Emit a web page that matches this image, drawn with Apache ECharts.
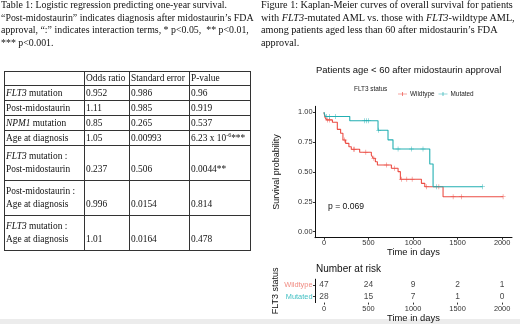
<!DOCTYPE html>
<html>
<head>
<meta charset="utf-8">
<title></title>
<script src="https://cdn.jsdelivr.net/npm/echarts@6/dist/echarts.min.js"></script>
<style>
*{ padding:0; margin:0; }
body{
    width:520px;
    height:324px;
    overflow:hidden;
    background:#fff;
    position:relative;
    font-family:"Liberation Serif","Times New Roman",serif;
    color:#111;
}
.band{ position:absolute; left:0; top:319px; width:520px; height:5px; background:#ececec; }
#main{ position:absolute; left:0; top:0; width:520px; height:324px; }
.cap{
    position:absolute;
    top:-1px;
    font-size:9.9px;
    line-height:12.5px;
    white-space:nowrap;
}
#tab{
    position:absolute;
    left:4px;
    top:71px;
    border-collapse:collapse;
    font-size:9.4px;
    line-height:13px;
}
#tab td{
    border:1px solid #333;
    padding:0 1px;
    vertical-align:middle;
    white-space:nowrap;
}
</style>
</head>
<body>
<div class="band"></div>
<div id="main"></div>
<div class="cap" style="left:1px;">Table 1: Logistic regression predicting one-year survival.<br>“Post-midostaurin” indicates diagnosis after midostaurin’s FDA<br>approval, “:” indicates interaction terms, * p&lt;0.05,&nbsp; ** p&lt;0.01,<br>*** p&lt;0.001.</div>
<div class="cap" style="left:261px;font-size:10.2px;">Figure 1: Kaplan-Meier curves of overall survival for patients<br>with <i>FLT3</i>-mutated AML vs. those with <i>FLT3</i>-wildtype AML,<br>among patients aged less than 60 after midostaurin’s FDA<br>approval.</div>
<table id="tab"></table>
<script>
// table 1
var headers = ['', 'Odds ratio', 'Standard error', 'P-value'];
var terms = ['<i>FLT3</i> mutation', 'Post-midostaurin', '<i>NPM1</i> mutation', 'Age at diagnosis',
    '<i>FLT3</i> mutation :<br>Post-midostaurin', 'Post-midostaurin :<br>Age at diagnosis', '<i>FLT3</i> mutation :<br>Age at diagnosis'];
var oddsRatio = ['0.952', '1.11', '0.85', '1.05', '0.237', '0.996', '1.01'];
var stdError = ['0.986', '0.985', '0.265', '0.00993', '0.506', '0.0154', '0.0164'];
var pValue = ['0.96', '0.919', '0.537', '6.23 x 10<sup style="font-size:6px;line-height:0">-6</sup>***', '0.0044**', '0.814', '0.478'];
var colWidths = [80, 45, 60, 61];

// survival curves (time in days, survival probability)
var wtTimes = [0, 12, 30, 95, 150, 187, 213, 243, 280, 307, 401, 532, 552, 577, 600, 757, 832, 858, 1094, 1132, 1337, 2011];
var wtSurv = [1, 0.957, 0.936, 0.916, 0.857, 0.824, 0.768, 0.74, 0.712, 0.69, 0.665, 0.642, 0.615, 0.586, 0.559, 0.531, 0.503, 0.439, 0.405, 0.377, 0.293, 0.293];
var wtCensor = [40, 60, 232, 330, 345, 470, 560, 700, 790, 870, 930, 990, 1150, 1290, 1450, 1543, 2011];
var mutTimes = [0, 15, 290, 607, 719, 775, 1188, 1225, 1780];
var mutSurv = [1, 0.964, 0.929, 0.849, 0.769, 0.693, 0.567, 0.377, 0.377];
var mutCensor = [30, 60, 130, 457, 476, 502, 614, 832, 982, 1112, 1262, 1780];

// number at risk
var riskTimes = [0, 500, 1000, 1500, 2000];
var wtRisk = [47, 24, 9, 2, 1];
var mutRisk = [28, 15, 7, 1, 0];
var groups = ['Wildtype', 'Mutated'];
var xTicks = [0, 500, 1000, 1500, 2000];
var yTicks = [0, 0.25, 0.5, 0.75, 1];

var red = '#EC4E45';
var teal = '#23AFB2';

// build table
var rowH = [14, 15, 15, 15, 15, 35, 35, 35];
var html = '<tr style="height:' + rowH[0] + 'px">';
for (var c = 0; c < headers.length; c++) {
    html += '<td style="width:' + (colWidths[c] - 3) + 'px">' + headers[c] + '</td>';
}
html += '</tr>';
for (var r = 0; r < terms.length; r++) {
    var pre = terms[r].indexOf('<br>') > -1 ? '&nbsp;<br>' : '';
    html += '<tr style="height:' + rowH[r + 1] + 'px"><td>' + terms[r] + '</td><td>' + pre + oddsRatio[r] +
        '</td><td>' + pre + stdError[r] + '</td><td>' + pre + pValue[r] + '</td></tr>';
}
document.getElementById('tab').innerHTML = html;

function pairs(t, s) {
    var out = [];
    for (var i = 0; i < t.length; i++) out.push([t[i], s[i]]);
    return out;
}
function survAt(t, s, x) {
    var v = s[0];
    for (var i = 0; i < t.length; i++) { if (t[i] <= x) v = s[i]; }
    return v;
}
function censorPts(ct, t, s) {
    return ct.map(function (x) { return [x, survAt(t, s, x)]; });
}
function riskPts(name, vals) {
    return riskTimes.map(function (x, i) { return [x, name, vals[i]]; });
}

var plus = 'path://M4,0h1v9h-1z M0,4h9v1h-9z';
var legIcon = 'path://M0,4h13v1h-13z M6,1.5h1v6h-1z';
var sans = 'Liberation Sans, Arial, sans-serif';

var chart = echarts.init(document.getElementById('main'));
var option = {
    animation: false,
    textStyle: { fontFamily: sans },
    title: {
        text: 'Patients age < 60 after midostaurin approval',
        left: 311, top: 61,
        textStyle: { fontSize: 9.45, fontWeight: 'normal', color: '#111', fontFamily: sans }
    },
    legend: {
        data: [{ name: 'Wildtype', icon: legIcon }, { name: 'Mutated', icon: legIcon }],
        left: 393, top: 86,
        itemWidth: 9, itemHeight: 6, itemGap: 4,
        textStyle: { fontSize: 6.4, color: '#222', padding: [0, 0, 0, -2] }
    },
    graphic: [
        { type: 'text', left: 354, top: 86.5, style: { text: 'FLT3 status', fontSize: 6.4, fill: '#222', fontFamily: sans } },
        { type: 'text', left: 328, top: 202, style: { text: 'p = 0.069', fontSize: 8.6, fill: '#111', fontFamily: sans } },
        { type: 'text', left: 316, top: 264, style: { text: 'Number at risk', fontSize: 10, fill: '#111', fontFamily: sans } }
    ],
    grid: [
        { left: 315, right: 8, top: 106.3, height: 131.4 },
        { left: 315, right: 8, top: 279.2, height: 23.4 }
    ],
    xAxis: [0, 1].map(function (g) {
        return {
            type: 'value', gridIndex: g, min: -100.5, max: 2111,
            name: 'Time in days', nameLocation: 'middle', nameGap: g === 0 ? 10.5 : 11,
            nameTextStyle: { fontSize: 9.4, color: '#111' },
            axisLine: { onZero: false, lineStyle: { color: '#111', width: 1 } },
            axisTick: { show: true, length: 2, customValues: xTicks, lineStyle: { color: '#333' } },
            axisLabel: {
                customValues: xTicks, fontSize: 7.4, color: '#333', margin: g === 0 ? 2 : 3,
                formatter: function (v) { return String(v); }
            },
            splitLine: { show: false }
        };
    }),
    yAxis: [
        {
            type: 'value', gridIndex: 0, min: -0.05, max: 1.05,
            name: 'Survival probability', nameLocation: 'middle', nameGap: 34,
            nameTextStyle: { fontSize: 9, color: '#111' },
            axisLine: { show: true, onZero: false, lineStyle: { color: '#111', width: 1 } },
            axisTick: { show: true, length: 2, customValues: yTicks, lineStyle: { color: '#333' } },
            axisLabel: {
                customValues: yTicks, fontSize: 7.4, color: '#333', margin: 2.5,
                formatter: function (v) { return v.toFixed(2); }
            },
            splitLine: { show: false }
        },
        {
            type: 'category', gridIndex: 1, data: groups, inverse: true,
            name: 'FLT3 status', nameLocation: 'middle', nameGap: 34,
            nameTextStyle: { fontSize: 9, color: '#111' },
            axisLine: { onZero: false, lineStyle: { color: '#111', width: 1 } },
            axisTick: { show: true, length: 2, alignWithLabel: true, lineStyle: { color: '#333' } },
            axisLabel: {
                fontSize: 7.4, margin: 2.5,
                formatter: function (v) { return '{' + (v === 'Wildtype' ? 'w' : 'm') + '|' + v + '}'; },
                rich: { w: { color: '#F08A80', fontSize: 7.4 }, m: { color: '#3FBFC2', fontSize: 7.4 } }
            }
        }
    ],
    series: [
        {
            name: 'Wildtype', type: 'line', step: 'end', xAxisIndex: 0, yAxisIndex: 0,
            data: pairs(wtTimes, wtSurv), showSymbol: false, symbol: 'none',
            lineStyle: { color: red, width: 1.1 }, itemStyle: { color: red }
        },
        {
            name: 'Mutated', type: 'line', step: 'end', xAxisIndex: 0, yAxisIndex: 0,
            data: pairs(mutTimes, mutSurv), showSymbol: false, symbol: 'none',
            lineStyle: { color: teal, width: 1.1 }, itemStyle: { color: teal }
        },
        {
            name: 'wt censor', type: 'scatter', xAxisIndex: 0, yAxisIndex: 0,
            data: censorPts(wtCensor, wtTimes, wtSurv), symbol: plus, symbolSize: 5,
            itemStyle: { color: red }
        },
        {
            name: 'mut censor', type: 'scatter', xAxisIndex: 0, yAxisIndex: 0,
            data: censorPts(mutCensor, mutTimes, mutSurv), symbol: plus, symbolSize: 5,
            itemStyle: { color: teal }
        },
        {
            name: 'risk', type: 'scatter', xAxisIndex: 1, yAxisIndex: 1,
            data: riskPts('Wildtype', wtRisk).concat(riskPts('Mutated', mutRisk)),
            symbolSize: 0,
            label: {
                show: true, position: 'inside', fontSize: 8.4, color: '#111',
                formatter: function (p) { return p.value[2]; }
            }
        }
    ]
};
chart.setOption(option);
</script>
</body>
</html>
